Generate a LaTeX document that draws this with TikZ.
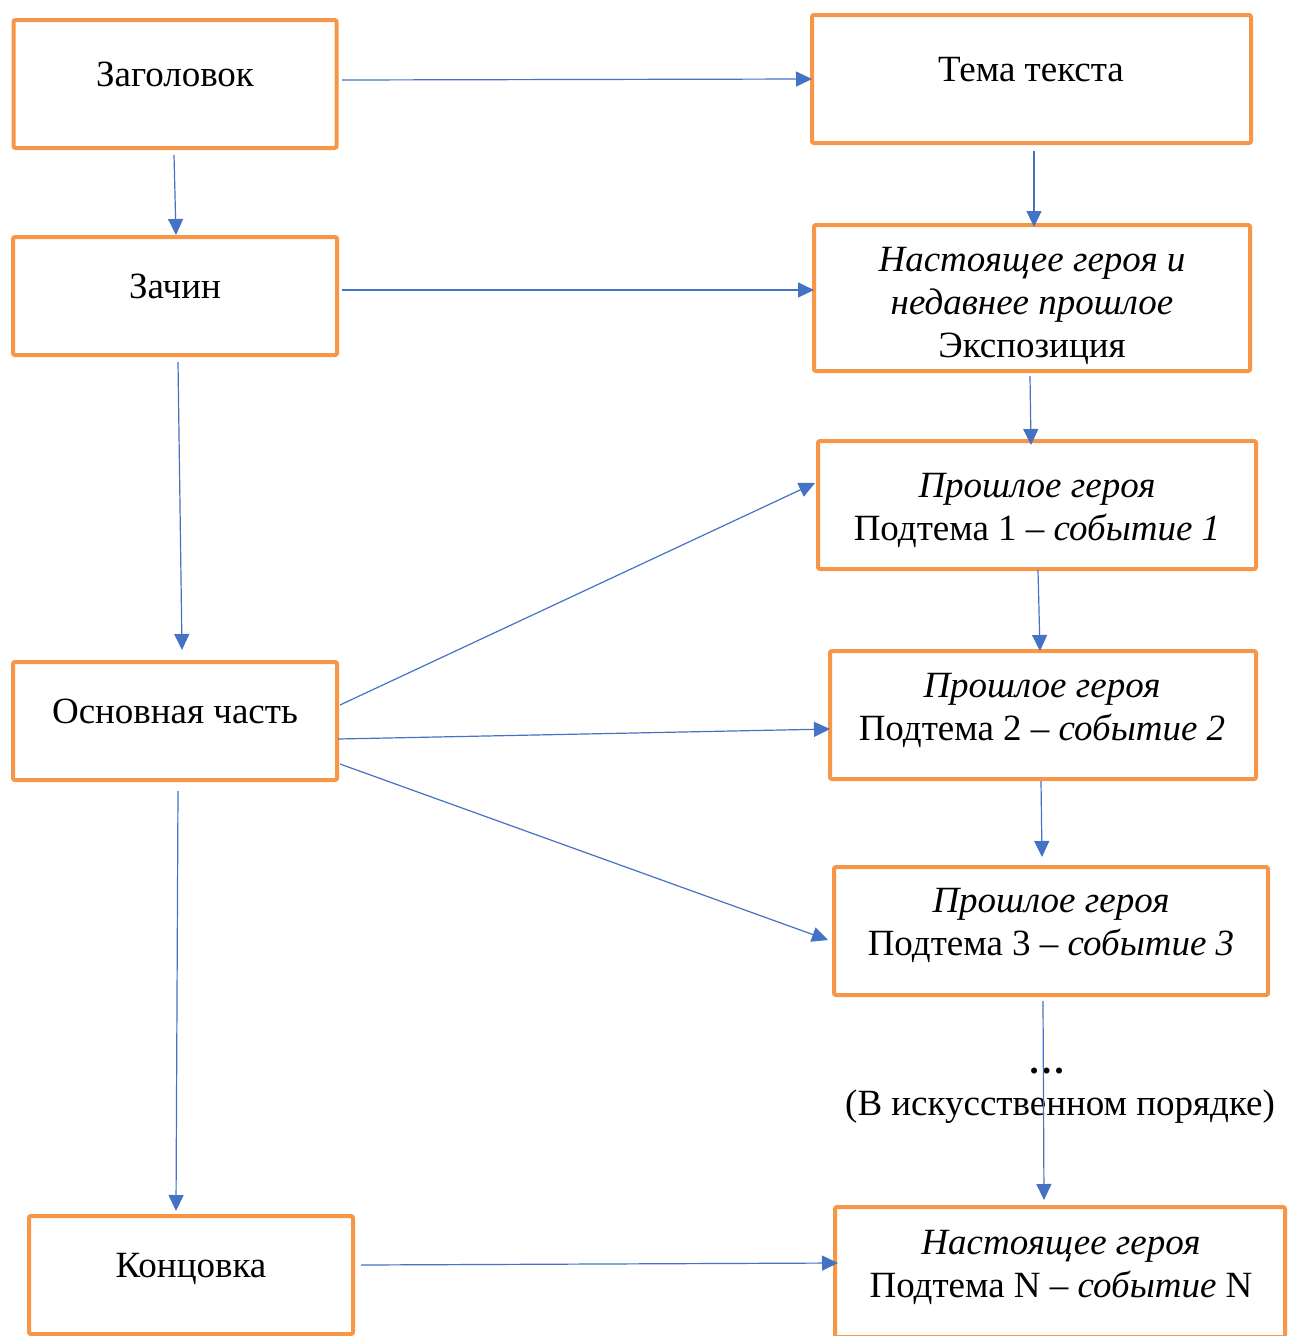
\documentclass[tikz,border=0pt]{standalone}
\usepackage{fontspec}
\setmainfont{Liberation Serif}
\usetikzlibrary{arrows.meta}
\definecolor{boxorange}{HTML}{F79646}
\definecolor{arrowblue}{HTML}{4472C4}
\begin{document}
\begin{tikzpicture}[x=1pt, y=-1pt,
        box/.style = {draw=boxorange, line width=4pt, rounded corners=2pt, outer sep=0pt, inner sep=0pt},
        txt/.style = {anchor=base, inner sep=0pt, align=center, font=\fontsize{37}{43}\selectfont},
        arr/.style = {draw=arrowblue, line width=1.2pt, -{Triangle[length=16pt,width=15pt]}}]
        \useasboundingbox (0,0) rectangle (1288,1336);
        \node[box, minimum width=323pt, minimum height=128pt] (zag) at (175,84) {};
        \node[box, minimum width=439pt, minimum height=128pt] (tema) at (1031.5,79) {};
        \node[box, minimum width=324pt, minimum height=118pt] (zach) at (175,296) {};
        \node[box, minimum width=436pt, minimum height=146pt] (nast) at (1032,298) {};
        \node[box, minimum width=438pt, minimum height=128pt] (pr1) at (1037,505) {};
        \node[box, minimum width=324pt, minimum height=118pt] (osn) at (175,721) {};
        \node[box, minimum width=426pt, minimum height=128pt] (pr2) at (1043,715) {};
        \node[box, minimum width=434pt, minimum height=128pt] (pr3) at (1051,931) {};
        \node[box, minimum width=324pt, minimum height=118pt] (konc) at (191,1275) {};
        \node[box, minimum width=450pt, minimum height=130pt] (nastN) at (1060,1272) {};

        \node[txt] (zagT) at (175,86) {Заголовок};
        \node[txt] (temaT) at (1031,81) {Тема текста};
        \node[txt] (zachT) at (175,298) {Зачин};
        \node[txt] (nastT) at (1032,357) {\textit{Настоящее героя и}\\ \textit{недавнее прошлое}\\ Экспозиция};
        \node[txt] (pr1T) at (1037,540) {\textit{Прошлое героя}\\ Подтема 1 – \textit{событие 1}};
        \node[txt] (osnT) at (175,723) {Основная часть};
        \node[txt] (pr2T) at (1042,740) {\textit{Прошлое героя}\\ Подтема 2 – \textit{событие 2}};
        \node[txt] (pr3T) at (1051,955) {\textit{Прошлое героя}\\ Подтема 3 – \textit{событие 3}};
        \node[txt] (dots) at (1047,1073) {\textbf{…}};
        \node[txt] (order) at (1060,1115) {(В искусственном порядке)};
        \node[txt] (koncT) at (191,1277) {Концовка};
        \node[txt] (nastNT) at (1061,1297) {\textit{Настоящее героя}\\ Подтема N – \textit{событие} N};

        \draw[arr] ([xshift=5.5pt,yshift=4pt]zag.east) -- (tema.west);
        \draw[arr] ([xshift=-1pt,yshift=-7pt]zag.south) -- ([xshift=1pt,yshift=2pt]zach.north);
        \draw[arr] ([xshift=5pt,yshift=6pt]zach.east) -- ([yshift=8pt]nast.west);
        \draw[arr] ([xshift=2.5pt,yshift=-8pt]tema.south) -- ([xshift=2pt,yshift=-2pt]nast.north);
        \draw[arr] ([xshift=3pt,yshift=-7pt]zach.south) -- ([xshift=7pt,yshift=12pt]osn.north);
        \draw[arr] ([xshift=-2pt,yshift=-5pt]nast.south) -- ([xshift=-6pt,yshift=-4pt]pr1.north);
        \draw[arr] ([xshift=3pt,yshift=16pt]osn.east) -- ([xshift=-3pt,yshift=22pt]pr1.west);
        \draw[arr] ([xshift=1pt,yshift=-18pt]osn.east) -- ([yshift=-14pt]pr2.west);
        \draw[arr] ([xshift=3pt,yshift=-43pt]osn.east) -- ([xshift=-6pt,yshift=-9pt]pr3.west);
        \draw[arr] ([xshift=1pt,yshift=-1pt]pr1.south) -- ([xshift=-3pt]pr2.north);
        \draw[arr] ([xshift=-2pt,yshift=-2pt]pr2.south) -- ([xshift=-9pt,yshift=10pt]pr3.north);
        \draw[arr] ([xshift=-8pt,yshift=-6pt]pr3.south) -- ([xshift=-16pt,yshift=7pt]nastN.north);
        \draw[arr] ([xshift=3pt,yshift=-11pt]osn.south) -- ([xshift=-15pt,yshift=5pt]konc.north);
        \draw[arr] ([xshift=8pt,yshift=10pt]konc.east) -- ([xshift=3pt,yshift=9pt]nastN.west);
\end{tikzpicture}
\end{document}
